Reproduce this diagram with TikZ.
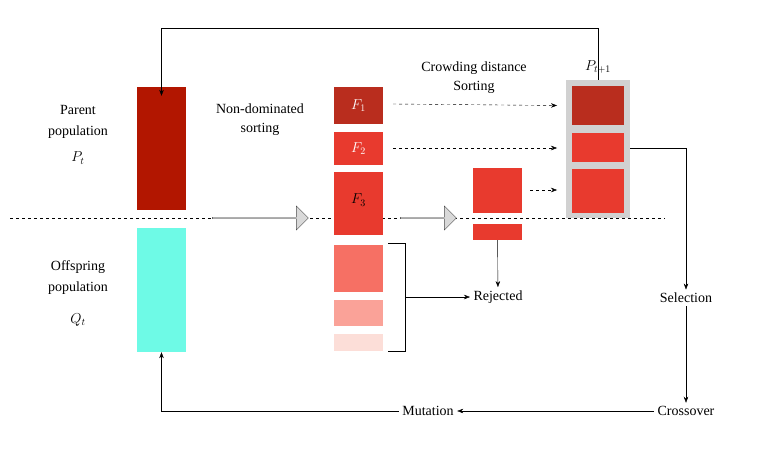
\documentclass[tikz,border=0pt]{standalone}
\usepackage{fontspec}
\setmainfont{Liberation Serif}
\usetikzlibrary{arrows.meta,shapes.arrows,positioning}
\definecolor{darkred}{RGB}{178,22,0}
\definecolor{fone}{RGB}{185,45,30}
\definecolor{fred}{RGB}{232,58,46}
\definecolor{paleA}{RGB}{246,112,100}
\definecolor{paleB}{RGB}{250,162,152}
\definecolor{paleC}{RGB}{252,222,216}
\definecolor{cyanbox}{RGB}{110,250,230}
\begin{document}
\begin{tikzpicture}[x=1pt,y=-1pt,
    every node/.style={font=\fontsize{14}{17}\selectfont},
    box/.style={draw=none,inner sep=0pt,minimum width=49pt},
    lbl/.style={align=center,inner sep=1pt},
    arr/.style={-{Stealth[length=6pt,width=4.5pt]}},
    dasharr/.style={dashed,arr},
    bigarrow/.style={single arrow,draw=black!70,fill=black!15,minimum height=96pt,
      minimum width=24pt,single arrow head extend=3pt,inner sep=0pt}]

    \useasboundingbox (0,0) rectangle (768,452);

    % Dashed separating line
    \draw[dashed,thick] (10,218) -- (665,218);

    % Parent and offspring
    \node[box,fill=darkred,minimum height=123pt] (par) at (161.5,148.5) {};
    \node[box,fill=cyanbox,minimum height=124pt] (off) at (161.5,290) {};
    \node[lbl] (plab) at (78,122) {Parent\\[4pt]population};
    \node (pt) at (78,158) {$P_t$};
    \node[lbl] (olab) at (78,278) {Offspring\\[4pt]population};
    \node (qt) at (78,320) {$Q_t$};

    % Non-dominated sorting
    \node[bigarrow] (big1) at (260,218) {};
    \node[lbl] (nds) at (260,120) {Non-dominated\\[2pt]sorting};

    % Fronts
    \node[box,fill=fone,minimum height=37pt] (f1) at (358.5,105.5) {\textcolor{white}{$F_1$}};
    \node[box,fill=fred,minimum height=33pt] (f2) at (358.5,148.5) {\textcolor{white}{$F_2$}};
    \node[box,fill=fred,minimum height=63pt] (f3) at (358.5,203.5) {};
    \node at (358.5,200) {$F_3$};
    \node[box,fill=paleA,minimum height=47pt] (f4) at (358.5,268.5) {};
    \node[box,fill=paleB,minimum height=26pt] (f5) at (358.5,313) {};
    \node[box,fill=paleC,minimum height=17pt] (f6) at (358.5,342.5) {};

    % Rejected
    \coordinate (bt) at (405,243);
    \coordinate (bb) at (405,351);
    \coordinate (bm) at (405,297);
    \draw (388,243) -- (bt) -- (bb) -- (388,351);
    \node (rej) at (498,297) {Rejected};
    \draw[arr] (bm) -- (rej);

    % Crowding distance
    \node[bigarrow,minimum height=56pt] (big2) at (428,218) {};
    \node[box,fill=fred,minimum height=45pt] (mid) at (497.5,190.5) {};
    \node[box,fill=fred,minimum height=16pt] (midlow) at (497.5,232) {};
    \draw[arr] (midlow) -- (rej);
    \node[lbl] (cds) at (474,78) {Crowding distance\\[2pt]Sorting};

    % Next population
    \node[box,fill=black!18,minimum width=64pt,minimum height=138pt] (next) at (598,149) {};
    \node[box,fill=fone,minimum width=52pt,minimum height=39pt] (n1) at (598,105.5) {};
    \node[box,fill=fred,minimum width=52pt,minimum height=29pt] (n2) at (598,147.5) {};
    \node[box,fill=fred,minimum width=52pt,minimum height=44pt] (n3) at (598,191) {};
    \node (pt1) at (598,67) {$P_{t+1}$};
    \draw[dasharr] (393,104) -- (n1.west -| 557,104);
    \draw[dasharr] (393,148) -- (557,148);
    \draw[dasharr] (530,190) -- (557,190);

    % Loop
    \node (sel) at (686,298) {Selection};
    \node (cro) at (686,411) {Crossover};
    \node (mut) at (428,411) {Mutation};
    \draw[arr] (next.east |- 0,148) -| (sel);
    \draw[arr] (sel) -- (cro);
    \draw[arr] (cro) -- (mut);
    \draw[arr] (mut) -| (off);
    \draw[arr] (next.north) -- (598,28) -| ([yshift=-9pt]par.north);

\end{tikzpicture}
\end{document}
